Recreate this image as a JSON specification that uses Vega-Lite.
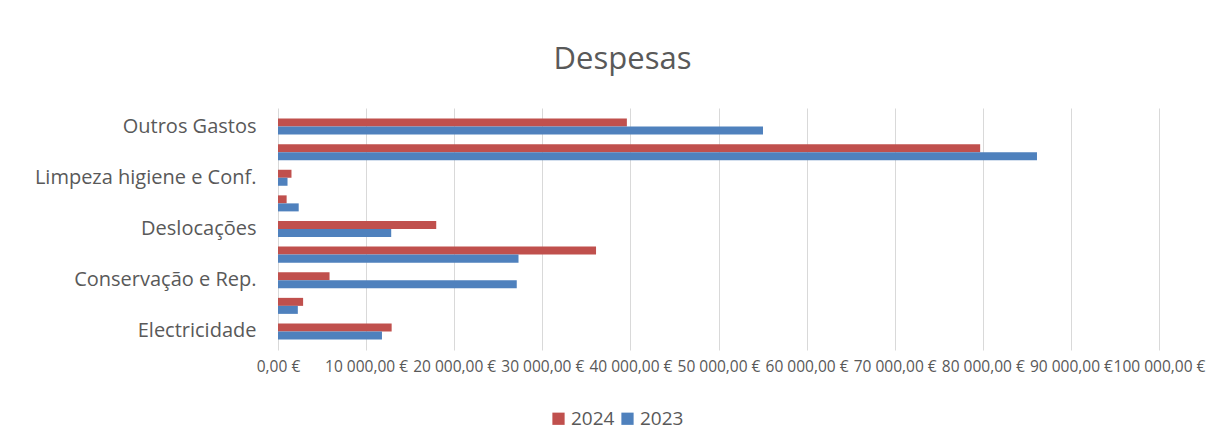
{
  "$schema": "https://vega.github.io/schema/vega-lite/v6.json",
  "autosize": {"type": "none"},
  "width": 881,
  "height": 242,
  "padding": {"left": 278, "top": 108, "right": 67, "bottom": 98},
  "background": "white",
  "title": {
    "text": "Despesas",
    "fontSize": 31,
    "font": "Open Sans",
    "fontWeight": "normal",
    "color": "#595959",
    "anchor": "middle",
    "dx": -96,
    "offset": 32
  },
  "data": {
    "values": [
      {"categoria": "Outros Gastos", "ano": "2024", "valor": 39600},
      {"categoria": "Outros Gastos", "ano": "2023", "valor": 55050},
      {"categoria": "Honorários", "ano": "2024", "valor": 79700},
      {"categoria": "Honorários", "ano": "2023", "valor": 86150},
      {"categoria": "Limpeza higiene e Conf.", "ano": "2024", "valor": 1530},
      {"categoria": "Limpeza higiene e Conf.", "ano": "2023", "valor": 1080},
      {"categoria": "Comunicações", "ano": "2024", "valor": 980},
      {"categoria": "Comunicações", "ano": "2023", "valor": 2350},
      {"categoria": "Deslocações", "ano": "2024", "valor": 17960},
      {"categoria": "Deslocações", "ano": "2023", "valor": 12850},
      {"categoria": "Combustíveis", "ano": "2024", "valor": 36100},
      {"categoria": "Combustíveis", "ano": "2023", "valor": 27300},
      {"categoria": "Conservação e Rep.", "ano": "2024", "valor": 5850},
      {"categoria": "Conservação e Rep.", "ano": "2023", "valor": 27100},
      {"categoria": "Água", "ano": "2024", "valor": 2850},
      {"categoria": "Água", "ano": "2023", "valor": 2250},
      {"categoria": "Electricidade", "ano": "2024", "valor": 12900},
      {"categoria": "Electricidade", "ano": "2023", "valor": 11800}
    ]
  },
  "mark": {"type": "bar"},
  "encoding": {
    "y": {
      "field": "categoria",
      "type": "nominal",
      "sort": ["Outros Gastos", "Honorários", "Limpeza higiene e Conf.", "Comunicações", "Deslocações", "Combustíveis", "Conservação e Rep.", "Água", "Electricidade"],
      "scale": {"paddingInner": 0.375, "paddingOuter": 0.41},
      "axis": {
        "title": null,
        "domain": false,
        "ticks": false,
        "labelPadding": 22,
        "labelLimit": 300,
        "labelFont": "Open Sans",
        "labelFontSize": 20,
        "labelColor": "#595959",
        "labelExpr": "indexof(['Outros Gastos','Limpeza higiene e Conf.','Deslocações','Conservação e Rep.','Electricidade'], datum.value) >= 0 ? datum.value : ''"
      }
    },
    "yOffset": {"field": "ano", "type": "nominal", "sort": ["2024", "2023"]},
    "x": {
      "field": "valor",
      "type": "quantitative",
      "scale": {"domain": [0, 100000], "nice": false},
      "axis": {
        "title": null,
        "values": [0, 10000, 20000, 30000, 40000, 50000, 60000, 70000, 80000, 90000, 100000],
        "domain": false,
        "ticks": false,
        "gridColor": "#d9d9d9",
        "gridWidth": 1,
        "labelFont": "Open Sans",
        "labelFontSize": 15.5,
        "labelColor": "#595959",
        "labelPadding": 9,
        "labelOverlap": false,
        "labelFlush": false,
        "labelExpr": "replace(replace(format(datum.value, ',.2f'), ',', ' '), '.', ',') + ' €'"
      }
    },
    "color": {
      "field": "ano",
      "type": "nominal",
      "sort": ["2024", "2023"],
      "scale": {"domain": ["2024", "2023"], "range": ["#C0504D", "#4F81BD"]},
      "legend": {
        "title": null,
        "orient": "none",
        "direction": "horizontal",
        "legendX": 271,
        "legendY": 301,
        "symbolType": "square",
        "symbolSize": 150,
        "symbolStrokeWidth": 0,
        "labelFont": "Open Sans",
        "labelFontSize": 19,
        "labelColor": "#595959",
        "columnPadding": 3,
        "labelOffset": 3
      }
    }
  },
  "config": {
    "view": {"stroke": null}
  }
}
